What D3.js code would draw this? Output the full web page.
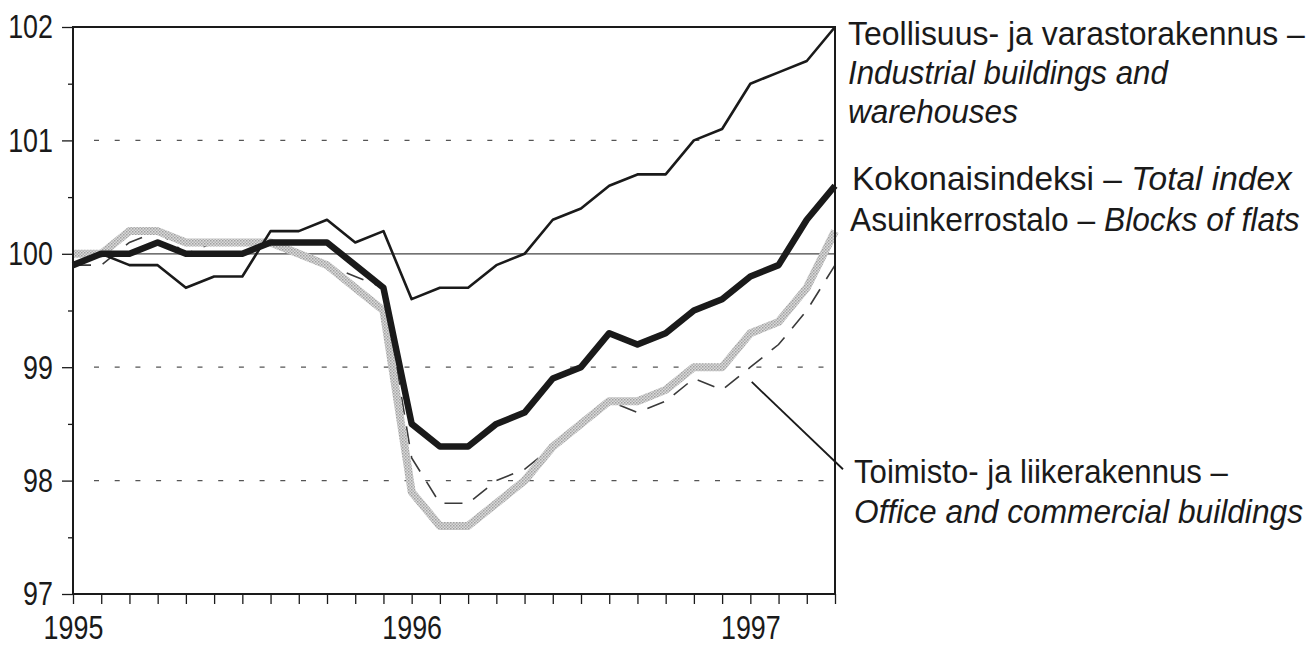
<!DOCTYPE html>
<html>
<head>
<meta charset="utf-8">
<script src="https://cdn.jsdelivr.net/npm/d3@7"></script>
<style>
  body { margin: 0; background: #fff; }
  svg { display: block; }
  text { font-family: "Liberation Sans", Arial, sans-serif; fill: #1a1a1a; }
</style>
</head>
<body>
<svg width="1315" height="647"></svg>
<script>
// Kuukaudet 1/1995 - 4/1997
const months = d3.range(28);
const yearTicks = [0, 12, 24];
const yearLabels = ["1995", "1996", "1997"];
const yTicks = [97, 98, 99, 100, 101, 102];

// Teollisuus- ja varastorakennus
const industrial = [99.9, 100.0, 99.9, 99.9, 99.7, 99.8, 99.8, 100.2, 100.2, 100.3, 100.1, 100.2,
  99.6, 99.7, 99.7, 99.9, 100.0, 100.3, 100.4, 100.6, 100.7, 100.7, 101.0, 101.1,
  101.5, 101.6, 101.7, 102.0];
// Kokonaisindeksi
const total = [99.9, 100.0, 100.0, 100.1, 100.0, 100.0, 100.0, 100.1, 100.1, 100.1, 99.9, 99.7,
  98.5, 98.3, 98.3, 98.5, 98.6, 98.9, 99.0, 99.3, 99.2, 99.3, 99.5, 99.6,
  99.8, 99.9, 100.3, 100.6];
// Asuinkerrostalo
const flats = [100.0, 100.0, 100.2, 100.2, 100.1, 100.1, 100.1, 100.1, 100.0, 99.9, 99.7, 99.5,
  97.9, 97.6, 97.6, 97.8, 98.0, 98.3, 98.5, 98.7, 98.7, 98.8, 99.0, 99.0,
  99.3, 99.4, 99.7, 100.2];
// Toimisto- ja liikerakennus
const office = [99.9, 99.9, 100.1, 100.2, 100.0, 100.1, 100.1, 100.1, 100.0, 99.9, 99.8, 99.7,
  98.2, 97.8, 97.8, 98.0, 98.1, 98.3, 98.5, 98.7, 98.6, 98.7, 98.9, 98.8,
  99.0, 99.2, 99.5, 99.9];

const svg = d3.select("svg");
const plotLeft = 73, plotRight = 835, plotTop = 27, plotBottom = 594;
const condense = 0.79; // kapea kirjasin puuttuu, puristetaan vaakasuunnassa

const x = d3.scaleLinear().domain([0, 27]).range([plotLeft, plotRight]);
const y = d3.scaleLinear().domain([97, 102]).range([plotBottom, plotTop]);

// Halftone-kuvio harmaalle viivalle
const defs = svg.append("defs");
const pat = defs.append("pattern")
  .attr("id", "halftone")
  .attr("patternUnits", "userSpaceOnUse")
  .attr("width", 3).attr("height", 3);
pat.append("rect").attr("width", 3).attr("height", 3).attr("fill", "#dadada");
pat.append("rect").attr("width", 1.5).attr("height", 1.5).attr("fill", "#a0a0a0");
pat.append("rect").attr("x", 1.5).attr("y", 1.5).attr("width", 1.5).attr("height", 1.5).attr("fill", "#b0b0b0");

// Apuviivat
[98, 99, 101].forEach((v) => {
  svg.append("line")
    .attr("x1", plotLeft + 21).attr("x2", plotRight)
    .attr("y1", y(v)).attr("y2", y(v))
    .attr("stroke", "#555")
    .attr("stroke-width", 1.2)
    .attr("stroke-dasharray", "5,15.7");
});
svg.append("line")
  .attr("x1", plotLeft).attr("x2", plotRight)
  .attr("y1", y(100)).attr("y2", y(100))
  .attr("stroke", "#444")
  .attr("stroke-width", 1.2);

const line = d3.line()
  .x((d, i) => x(i))
  .y((d) => y(d));

svg.append("path")
  .datum(office)
  .attr("d", line)
  .attr("fill", "none")
  .attr("stroke", "#3a3a3a")
  .attr("stroke-width", 1.6)
  .attr("stroke-dasharray", "18,12");

svg.append("path")
  .datum(flats)
  .attr("d", line)
  .attr("fill", "none")
  .attr("stroke", "url(#halftone)")
  .attr("stroke-width", 8)
  .attr("stroke-linejoin", "round");

svg.append("path")
  .datum(industrial)
  .attr("d", line)
  .attr("fill", "none")
  .attr("stroke", "#1a1a1a")
  .attr("stroke-width", 2.6)
  .attr("stroke-linejoin", "round");

svg.append("path")
  .datum(total)
  .attr("d", line)
  .attr("fill", "none")
  .attr("stroke", "#1a1a1a")
  .attr("stroke-width", 6.5)
  .attr("stroke-linejoin", "round");

// Kehys
svg.append("rect")
  .attr("x", plotLeft).attr("y", plotTop)
  .attr("width", plotRight - plotLeft).attr("height", plotBottom - plotTop)
  .attr("fill", "none")
  .attr("stroke", "#1a1a1a")
  .attr("stroke-width", 2);

// Akselit
const yAxis = svg.append("g")
  .attr("transform", `translate(${plotLeft},0)`)
  .call(d3.axisLeft(y).tickValues(yTicks).tickSize(11).tickPadding(9).tickFormat(d3.format("d")));
svg.append("g")
  .attr("transform", `translate(${plotLeft},0)`)
  .call(d3.axisLeft(y).tickValues(d3.range(97.5, 102, 1)).tickSize(5).tickFormat(""));

const xAxis = svg.append("g")
  .attr("transform", `translate(0,${plotBottom})`)
  .call(d3.axisBottom(x).tickValues(months).tickSize(10).tickPadding(11)
    .tickFormat((d) => (yearTicks.includes(d) ? yearLabels[yearTicks.indexOf(d)] : "")));

svg.selectAll(".domain").remove();
svg.selectAll(".tick line").attr("stroke", "#1a1a1a").attr("stroke-width", 1.3);
svg.selectAll("g").attr("font-family", null).attr("font-size", null);
yAxis.selectAll("text").attr("font-size", 34).attr("fill", "#1a1a1a");
xAxis.selectAll("text").attr("font-size", 34).attr("fill", "#1a1a1a");

// Tikkien tekstit kapeammiksi
svg.selectAll(".tick text").each(function () {
  const w = this.getComputedTextLength();
  if (w > 0) {
    d3.select(this)
      .attr("textLength", w * condense)
      .attr("lengthAdjust", "spacingAndGlyphs");
  }
});

// Selitteet (viimeinen luku = rivin leveys kuvassa)
const labels = [
  { lines: [["Teollisuus- ja varastorakennus –", "", 457], ["", "Industrial buildings and", 320], ["", "warehouses", 170]], x: 848, y: 45, dy: 39 },
  { lines: [["Kokonaisindeksi – ", "Total index", 440]], x: 852, y: 190, dy: 41 },
  { lines: [["Asuinkerrostalo – ", "Blocks of flats", 450]], x: 850, y: 231, dy: 41 },
  { lines: [["Toimisto- ja liikerakennus –", "", 374], ["", "Office and commercial buildings", 449]], x: 854, y: 483, dy: 40 }
];

labels.forEach((l) => {
  l.lines.forEach((ln, i) => {
    const g = svg.append("g")
      .attr("transform", `translate(${l.x},${l.y + i * l.dy})`);
    const t = g.append("text").attr("font-size", 34);
    if (ln[0]) t.append("tspan").text(ln[0]);
    if (ln[1]) t.append("tspan").attr("font-style", "italic").text(ln[1]);
    const w = t.node().getComputedTextLength();
    t.attr("transform", `scale(${ln[2] / w},1)`);
  });
});

// Osoitinviiva toimistorakennuksille
svg.append("line")
  .attr("x1", x(24.05)).attr("y1", y(98.87))
  .attr("x2", plotRight + 8).attr("y2", y(98.1))
  .attr("stroke", "#1a1a1a")
  .attr("stroke-width", 1.8);
</script>
</body>
</html>
